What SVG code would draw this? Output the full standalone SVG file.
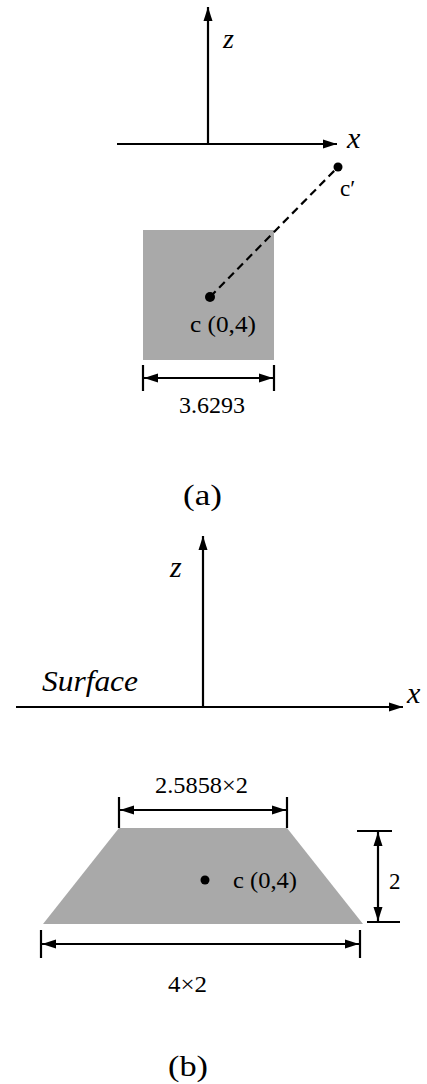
<svg xmlns="http://www.w3.org/2000/svg" width="427" height="1084" viewBox="0 0 427 1084">
<style>
.ln{stroke:#000;stroke-width:2.2;fill:none}
.t{fill:#000;font-family:"Liberation Serif","Times New Roman","DejaVu Serif",serif}
.it{font-style:italic}
.shape{fill:#a9a9a9}
</style>
<defs>
<marker id="ah" markerUnits="userSpaceOnUse" markerWidth="15" markerHeight="10" refX="14" refY="5" orient="auto-start-reverse">
<path d="M0,0.5 L14,5 L0,9.5 z" fill="#000"/>
</marker>
</defs>
<rect width="427" height="1084" fill="#fff"/>
<g id="panel-a">
<g id="square-a"><rect class="shape" x="143" y="230" width="131" height="130"/></g>
<g id="axes-a">
<line class="ln" x1="208" y1="144" x2="208" y2="7" marker-end="url(#ah)"/>
<line class="ln" x1="117" y1="144" x2="337" y2="144" marker-end="url(#ah)"/>
<text class="t it" x="223" y="48" font-size="28">z</text>
<text class="t it" x="347" y="148" font-size="30">x</text>
</g>
<g id="connectors-a">
<line class="ln" x1="210" y1="297" x2="338" y2="167" stroke-width="2.6" stroke-dasharray="8,5"/>
<line class="ln" x1="143" y1="365" x2="143" y2="391"/>
<line class="ln" x1="274" y1="365" x2="274" y2="391"/>
<line class="ln" x1="144" y1="378" x2="273" y2="378" marker-start="url(#ah)" marker-end="url(#ah)"/>
</g>
<g id="point-c-a">
<circle cx="210" cy="297" r="5" fill="#000"/>
<text class="t" x="190" y="332" font-size="23" textLength="66" lengthAdjust="spacingAndGlyphs">c (0,4)</text>
</g>
<g id="point-cprime">
<circle cx="338" cy="167" r="4.5" fill="#000"/>
<text class="t" x="340" y="196" font-size="23">c′</text>
</g>
<text class="t" x="179" y="413" font-size="23" textLength="66" lengthAdjust="spacingAndGlyphs">3.6293</text>
<text class="t" x="183" y="505" font-size="30" textLength="39" lengthAdjust="spacingAndGlyphs">(a)</text>
</g>

<g id="panel-b">
<g id="trapezoid-b"><polygon class="shape" points="119,828 287,828 363,924 43,924"/></g>
<g id="axes-b">
<line class="ln" x1="203" y1="707" x2="203" y2="536" marker-end="url(#ah)"/>
<line class="ln" x1="16" y1="707" x2="403" y2="707" marker-end="url(#ah)"/>
<text class="t it" x="170" y="577" font-size="30">z</text>
<text class="t it" x="407" y="703" font-size="30">x</text>
<text class="t it" x="42" y="691" font-size="29" textLength="96" lengthAdjust="spacingAndGlyphs">Surface</text>
</g>
<g id="connectors-b">
<line class="ln" x1="119" y1="797" x2="119" y2="828"/>
<line class="ln" x1="287" y1="797" x2="287" y2="828"/>
<line class="ln" x1="120" y1="810" x2="286" y2="810" marker-start="url(#ah)" marker-end="url(#ah)"/>
<line class="ln" x1="357" y1="831" x2="392" y2="831"/>
<line class="ln" x1="367" y1="922" x2="400" y2="922"/>
<line class="ln" x1="378" y1="832" x2="378" y2="921" marker-start="url(#ah)" marker-end="url(#ah)"/>
<line class="ln" x1="41" y1="930" x2="41" y2="958"/>
<line class="ln" x1="360" y1="930" x2="360" y2="958"/>
<line class="ln" x1="42" y1="944" x2="359" y2="944" marker-start="url(#ah)" marker-end="url(#ah)"/>
</g>
<g id="point-c-b">
<circle cx="205" cy="880" r="4.5" fill="#000"/>
<text class="t" x="233" y="888" font-size="23" textLength="64" lengthAdjust="spacingAndGlyphs">c (0,4)</text>
</g>
<text class="t" x="155" y="793" font-size="23" textLength="93" lengthAdjust="spacingAndGlyphs">2.5858×2</text>
<text class="t" x="389" y="889" font-size="23">2</text>
<text class="t" x="168" y="992" font-size="23" textLength="39" lengthAdjust="spacingAndGlyphs">4×2</text>
<text class="t" x="168" y="1076" font-size="30" textLength="40" lengthAdjust="spacingAndGlyphs">(b)</text>
</g>
</svg>
